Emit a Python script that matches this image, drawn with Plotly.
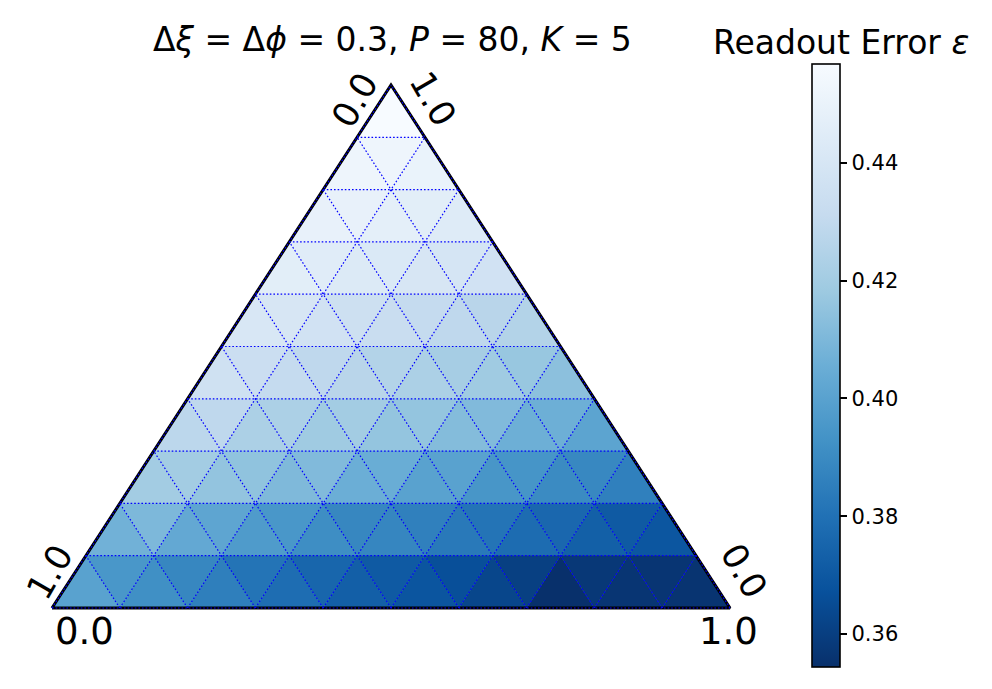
import numpy as np
import plotly.graph_objects as go
from plotly.colors import sample_colorscale, make_colorscale, sequential

SCALE = 10

# Upward triangles, row 0 = bottom row, left to right
UP_R0 = [0.400, 0.392, 0.3855, 0.3785, 0.3728, 0.3688, 0.3628, 0.3544, 0.3565, 0.356]
UP_R1 = [0.407, 0.403, 0.397, 0.3913, 0.388, 0.383, 0.378, 0.373, 0.369]
UP_R2 = [0.420, 0.4157, 0.4106, 0.4055, 0.400, 0.3946, 0.390, 0.386]
UP_R3 = [0.428, 0.423, 0.419, 0.416, 0.412, 0.406, 0.401]
UP_R4 = [0.436, 0.431, 0.427, 0.423, 0.419, 0.414]
UP_R5 = [0.441, 0.437, 0.433, 0.429, 0.425]
UP_R6 = [0.446, 0.443, 0.440, 0.437]
UP_R7 = [0.449, 0.447, 0.444]
UP_R8 = [0.452, 0.450]
UP_R9 = [0.4568]

# Downward triangles, row 0 = bottom row, left to right
DN_R0 = [0.395, 0.3886, 0.381, 0.3756, 0.3708, 0.3664, 0.3605, 0.3575, 0.3565]
DN_R1 = [0.410, 0.4015, 0.395, 0.3886, 0.386, 0.381, 0.3762, 0.371]
DN_R2 = [0.420, 0.415, 0.411, 0.405, 0.400, 0.394, 0.389]
DN_R3 = [0.429, 0.423, 0.420, 0.416, 0.411, 0.406]
DN_R4 = [0.434, 0.429, 0.425, 0.421, 0.417]
DN_R5 = [0.440, 0.435, 0.431, 0.427]
DN_R6 = [0.445, 0.442, 0.439]
DN_R7 = [0.449, 0.446]
DN_R8 = [0.452]

UP_ROWS = [UP_R0, UP_R1, UP_R2, UP_R3, UP_R4, UP_R5, UP_R6, UP_R7, UP_R8, UP_R9]
DN_ROWS = [DN_R0, DN_R1, DN_R2, DN_R3, DN_R4, DN_R5, DN_R6, DN_R7, DN_R8]

TICK_VALS = [0.36, 0.38, 0.40, 0.42, 0.44]
TICK_TEXT = ["0.36", "0.38", "0.40", "0.42", "0.44"]

TITLE = "Δ<i>ξ</i> = Δ<i>ϕ</i> = 0.3, <i>P</i> = 80, <i>K</i> = 5"
CBAR_TITLE = "Readout Error <i>ε</i>"

all_vals = [v for row in UP_ROWS + DN_ROWS for v in row]
VMIN, VMAX = min(all_vals), max(all_vals)

CSCALE = make_colorscale(sequential.Blues_r)
FONT = "DejaVu Sans"

W, H = 992, 689
# pixel frame of the triangle
X0_PX, X1_PX, YB_PX, YT_PX = 52, 730, 608, 85
ux = X1_PX - X0_PX
uy = (YB_PX - YT_PX) / (np.sqrt(3) / 2)


def proj(a, b):
    return (a + b / 2) / SCALE, b * np.sqrt(3) / 2 / SCALE


def col(v):
    return sample_colorscale(CSCALE, [(v - VMIN) / (VMAX - VMIN)])[0]


fig = go.Figure()


def add_tri(pts, v):
    c = col(v)
    xs = [p[0] for p in pts] + [pts[0][0]]
    ys = [p[1] for p in pts] + [pts[0][1]]
    fig.add_trace(go.Scatter(x=xs, y=ys, mode="lines", fill="toself",
                             fillcolor=c, line=dict(color=c, width=0.6),
                             hoverinfo="skip", showlegend=False))


for r, row in enumerate(UP_ROWS):
    for i, v in enumerate(row):
        add_tri([proj(i, r), proj(i + 1, r), proj(i, r + 1)], v)
for r, row in enumerate(DN_ROWS):
    for i, v in enumerate(row):
        add_tri([proj(i + 1, r), proj(i + 1, r + 1), proj(i, r + 1)], v)

# border
corners = [proj(0, 0), proj(SCALE, 0), proj(0, SCALE), proj(0, 0)]
fig.add_trace(go.Scatter(x=[p[0] for p in corners], y=[p[1] for p in corners],
                         mode="lines", line=dict(color="black", width=3),
                         hoverinfo="skip", showlegend=False))

# grid lines
gx, gy = [], []
for k in range(SCALE + 1):
    for (p, q) in [(proj(0, k), proj(SCALE - k, k)),
                   (proj(k, 0), proj(k, SCALE - k)),
                   (proj(k, 0), proj(0, k))]:
        gx += [p[0], q[0], None]
        gy += [p[1], q[1], None]
fig.add_trace(go.Scatter(x=gx, y=gy, mode="lines",
                         line=dict(color="blue", width=1.2, dash="1.6px,2px"),
                         hoverinfo="skip", showlegend=False))

# colorbar
fig.add_trace(go.Scatter(
    x=[None], y=[None], mode="markers", showlegend=False,
    marker=dict(color=[VMIN, VMAX], colorscale=CSCALE, cmin=VMIN, cmax=VMAX,
                showscale=True,
                colorbar=dict(
                    x=812 / W, xanchor="left", xpad=0,
                    y=1 - 365.5 / H, yanchor="middle", ypad=0,
                    lenmode="pixels", len=603, thickness=28,
                    outlinewidth=1.6, outlinecolor="black",
                    ticks="outside", ticklen=7, tickwidth=1.5, tickcolor="black",
                    tickvals=TICK_VALS, ticktext=TICK_TEXT,
                    tickfont=dict(family=FONT, size=21, color="black"),
                ))))


def px_ann(text, xp, yp, size, angle=0):
    fig.add_annotation(text=text, x=xp / W, y=1 - yp / H, xref="paper", yref="paper",
                       showarrow=False, textangle=angle, xanchor="center", yanchor="middle",
                       font=dict(family=FONT, size=size, color="black"))


px_ann(TITLE, 392, 40, 33)
px_ann(CBAR_TITLE, 841, 43, 33)
px_ann("0.0", 84, 631, 37)
px_ann("1.0", 728, 631, 37)
px_ann("1.0", 50, 572, 35, -60)
px_ann("0.0", 355, 100, 35, -60)
px_ann("1.0", 433, 99, 35, 60)
px_ann("0.0", 744, 571, 35, 60)

fig.update_layout(
    width=W, height=H, margin=dict(l=0, r=0, t=0, b=0),
    paper_bgcolor="white", plot_bgcolor="white", showlegend=False,
    xaxis=dict(range=[-X0_PX / ux, (W - X0_PX) / ux], visible=False, fixedrange=True),
    yaxis=dict(range=[-(H - YB_PX) / uy, YB_PX / uy], visible=False, fixedrange=True),
)

fig.write_html("out.html", config={"displayModeBar": False},
               post_script="document.body.style.margin='0px';")
